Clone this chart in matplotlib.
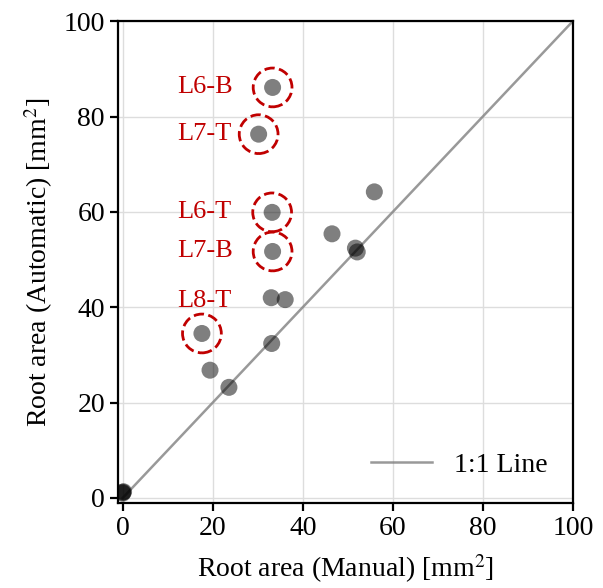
import matplotlib
matplotlib.use("Agg")
import matplotlib.pyplot as plt

plt.rcParams["font.family"] = ["Liberation Serif", "DejaVu Serif"]
plt.rcParams["mathtext.fontset"] = "stix"

# manual vs automatic root area [mm^2]
manual = [0.0, 0.2, 0.0, 19.4, 23.6, 33.1, 17.6, 33.0, 36.1, 33.3, 33.2,
          51.7, 52.1, 46.5, 55.9, 30.2, 33.3]
automatic = [1.2, 1.3, 1.0, 26.8, 23.2, 32.4, 34.5, 42.0, 41.6, 51.7, 59.9,
             52.4, 51.6, 55.4, 64.2, 76.3, 86.1]

# outliers that get a label
outlier_names = ["L6-B", "L7-T", "L6-T", "L7-B", "L8-T"]
outlier_x = [33.3, 30.2, 33.2, 33.3, 17.6]
outlier_y = [86.1, 76.3, 59.9, 51.7, 34.5]
label_y = [86.1, 76.3, 59.9, 51.7, 41.3]

red = "#c00000"
fs = 20

fig = plt.figure(figsize=(6.03, 5.88), dpi=100)
ax = fig.add_axes([0.196, 0.145, 0.754, 0.819])

ax.plot([0, 100], [0, 100], color="gray", alpha=0.8, lw=1.8, label="1:1 Line", zorder=2)
ax.scatter(manual, automatic, s=150, color="black", alpha=0.5, edgecolors="none", zorder=3)
ax.scatter(outlier_x, outlier_y, s=780, facecolors="none", edgecolors=red,
           linestyle="--", linewidths=2, zorder=4)
for name, ly in zip(outlier_names, label_y):
    ax.text(12.2, ly, name, color=red, fontsize=fs - 1, ha="left", va="center")

ax.set_xlim(-1, 100)
ax.set_ylim(-1, 100)
ax.set_xticks(range(0, 101, 20))
ax.set_yticks(range(0, 101, 20))
ax.grid(True, color="#dddddd", lw=1)
ax.set_axisbelow(True)
for s in ax.spines.values():
    s.set_linewidth(1.6)
ax.tick_params(direction="out", length=6, width=1.6, labelsize=fs)
ax.set_xlabel("Root area (Manual) [mm$^2$]", fontsize=fs, labelpad=8)
ax.set_ylabel("Root area (Automatic) [mm$^2$]", fontsize=fs, labelpad=6)
ax.legend(loc="lower right", frameon=False, fontsize=fs, handlelength=2.2)

fig.savefig("out.png", dpi=100)
